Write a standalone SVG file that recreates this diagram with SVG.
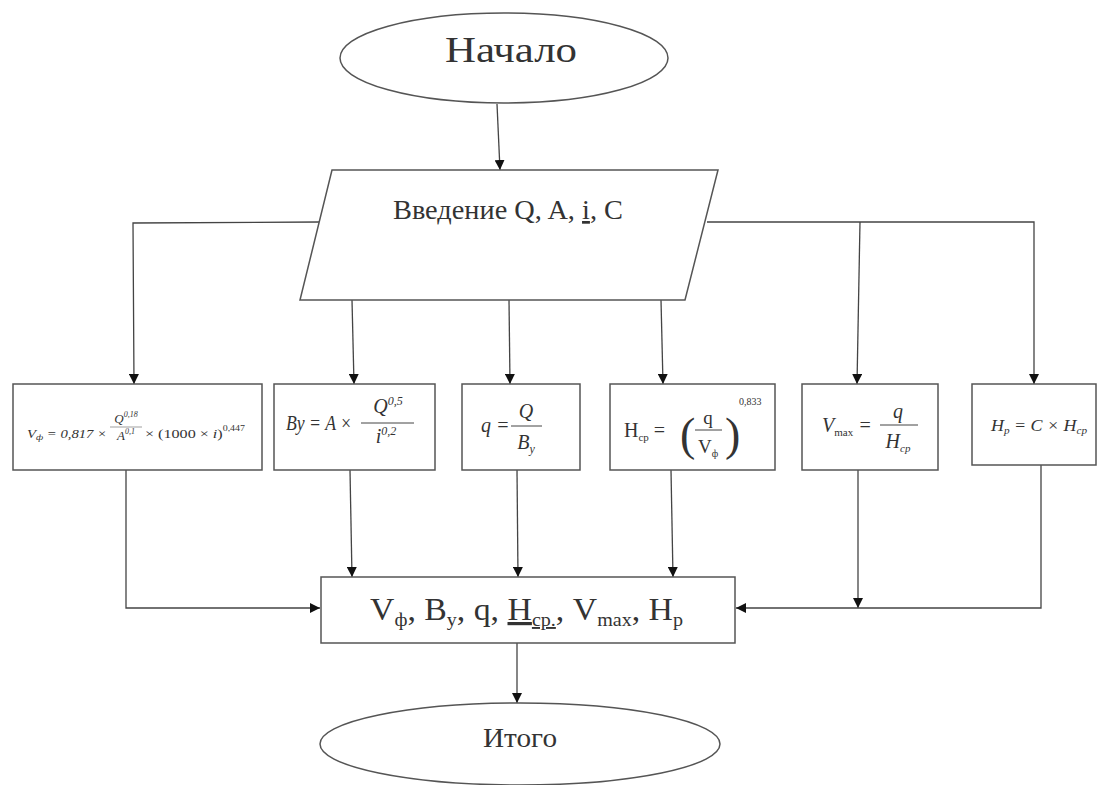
<svg xmlns="http://www.w3.org/2000/svg" width="1097" height="785" viewBox="0 0 1097 785">
<defs>
<marker id="ah" viewBox="0 0 10 10" refX="10" refY="5" markerWidth="10" markerHeight="10" markerUnits="userSpaceOnUse" orient="auto">
<path d="M0,0 L10,5 L0,10 z" fill="#111"/>
</marker>
<style>
.sh{fill:#fff;stroke:#555;stroke-width:1.5}
.ln{fill:none;stroke:#444;stroke-width:1.3}
.t{font-family:'Liberation Serif','Times New Roman','DejaVu Serif',serif;fill:#333}
.i{font-style:italic}
</style>
</defs>
<rect width="1097" height="785" fill="#fff"/>
<g id="connectors">
<line class="ln" x1="497" y1="104" x2="500" y2="170" marker-end="url(#ah)"/>
<polyline class="ln" points="319,222 133,223 134,384" marker-end="url(#ah)"/>
<polyline class="ln" points="707,222 1034,222 1034,384" marker-end="url(#ah)"/>
<line class="ln" x1="860" y1="222" x2="857" y2="384" marker-end="url(#ah)"/>
<line class="ln" x1="352" y1="300" x2="354" y2="384" marker-end="url(#ah)"/>
<line class="ln" x1="509" y1="300" x2="510" y2="384" marker-end="url(#ah)"/>
<line class="ln" x1="661" y1="300" x2="663" y2="384" marker-end="url(#ah)"/>
<polyline class="ln" points="126,470 126,608 320,608" marker-end="url(#ah)"/>
<line class="ln" x1="350" y1="470" x2="352" y2="577" marker-end="url(#ah)"/>
<line class="ln" x1="517" y1="470" x2="518" y2="577" marker-end="url(#ah)"/>
<line class="ln" x1="671" y1="470" x2="673" y2="577" marker-end="url(#ah)"/>
<line class="ln" x1="858" y1="470" x2="858" y2="608" marker-end="url(#ah)"/>
<polyline class="ln" points="1041,465 1041,608 736,608" marker-end="url(#ah)"/>
<line class="ln" x1="517" y1="643" x2="517" y2="703" marker-end="url(#ah)"/>
</g>
<g id="start">
<ellipse class="sh" cx="504" cy="58" rx="164" ry="45"/>
<text class="t" x="445" y="62" font-size="35" textLength="132" lengthAdjust="spacingAndGlyphs">Начало</text>
</g>
<g id="input">
<polygon class="sh" points="332,170 718,170 685,300 300,300"/>
<text class="t" x="393" y="219" font-size="27" textLength="230" lengthAdjust="spacingAndGlyphs">Введение Q, A, <tspan text-decoration="underline">i</tspan>, C</text>
</g>
<g id="box1">
<rect class="sh" x="13" y="384" width="249" height="86"/>
<text class="t i" x="27" y="438" font-size="13" textLength="80" lengthAdjust="spacingAndGlyphs">V<tspan font-size="9" dy="2">ф</tspan><tspan dy="-2"> = 0,817 ×</tspan></text>
<text class="t i" x="126" y="423" font-size="13" text-anchor="middle">Q<tspan font-size="8" dy="-6">0,18</tspan></text>
<line x1="110" y1="427" x2="142" y2="427" stroke="#777" stroke-width="0.7"/>
<text class="t i" x="126" y="440" font-size="13" text-anchor="middle">A<tspan font-size="8" dy="-6">0,1</tspan></text>
<text class="t" x="145" y="438" font-size="13" textLength="100" lengthAdjust="spacingAndGlyphs">× (1000 × <tspan font-style="italic">i</tspan>)<tspan font-size="8" dy="-7">0,447</tspan></text>
</g>
<g id="box2">
<rect class="sh" x="274" y="384" width="161" height="86"/>
<text class="t i" x="286" y="430" font-size="20" textLength="66" lengthAdjust="spacingAndGlyphs">By = A ×</text>
<text class="t i" x="388" y="413" font-size="20" text-anchor="middle">Q<tspan font-size="12" dy="-8">0,5</tspan></text>
<line x1="361" y1="423" x2="414" y2="423" stroke="#444" stroke-width="1"/>
<text class="t i" x="386" y="443" font-size="20" text-anchor="middle">i<tspan font-size="12" dy="-8">0,2</tspan></text>
</g>
<g id="box3">
<rect class="sh" x="462" y="384" width="118" height="86"/>
<text class="t i" x="481" y="432" font-size="20">q =</text>
<text class="t i" x="526" y="418" font-size="20" text-anchor="middle">Q</text>
<line x1="511" y1="426" x2="542" y2="426" stroke="#444" stroke-width="1"/>
<text class="t i" x="526" y="449" font-size="20" text-anchor="middle">B<tspan font-size="12" dy="4">у</tspan></text>
</g>
<g id="box4">
<rect class="sh" x="610" y="384" width="165" height="86"/>
<text class="t" x="624" y="437" font-size="20">H<tspan font-size="11" dy="4">ср</tspan><tspan dy="-4"> =</tspan></text>
<text class="t" x="680" y="450" font-size="46">(</text>
<text class="t" x="725" y="450" font-size="46">)</text>
<text class="t" x="708" y="424" font-size="19" text-anchor="middle">q</text>
<line x1="695" y1="430" x2="722" y2="430" stroke="#444" stroke-width="1"/>
<text class="t" x="708" y="453" font-size="19" text-anchor="middle">V<tspan font-size="10" dy="4">ф</tspan></text>
<text class="t" x="739" y="405" font-size="10">0,833</text>
</g>
<g id="box5">
<rect class="sh" x="802" y="384" width="136" height="86"/>
<text class="t i" x="822" y="432" font-size="20">V<tspan font-size="11" dy="4" font-style="normal">max</tspan><tspan dy="-4"> =</tspan></text>
<text class="t i" x="898" y="418" font-size="20" text-anchor="middle">q</text>
<line x1="880" y1="425" x2="918" y2="425" stroke="#444" stroke-width="1"/>
<text class="t i" x="898" y="448" font-size="20" text-anchor="middle">H<tspan font-size="11" dy="4">ср</tspan></text>
</g>
<g id="box6">
<rect class="sh" x="972" y="384" width="124" height="81"/>
<text class="t i" x="991" y="431" font-size="16" textLength="96" lengthAdjust="spacingAndGlyphs">H<tspan font-size="10" dy="3">р</tspan><tspan dy="-3"> = C × H</tspan><tspan font-size="10" dy="3">ср</tspan></text>
</g>
<g id="output">
<rect class="sh" x="321" y="577" width="414" height="66"/>
<text class="t" x="370" y="620" font-size="32" textLength="313" lengthAdjust="spacingAndGlyphs">V<tspan font-size="19" dy="6">ф</tspan><tspan dy="-6">, B</tspan><tspan font-size="19" dy="6">у</tspan><tspan dy="-6">, q, </tspan><tspan text-decoration="underline">H<tspan font-size="19" dy="6">ср.</tspan></tspan><tspan dy="-6">, V</tspan><tspan font-size="19" dy="6">max</tspan><tspan dy="-6">, H</tspan><tspan font-size="19" dy="6">р</tspan></text>
</g>
<g id="end">
<ellipse class="sh" cx="520" cy="744" rx="200" ry="41"/>
<text class="t" x="483" y="747" font-size="27" textLength="74" lengthAdjust="spacingAndGlyphs">Итого</text>
</g>
</svg>
